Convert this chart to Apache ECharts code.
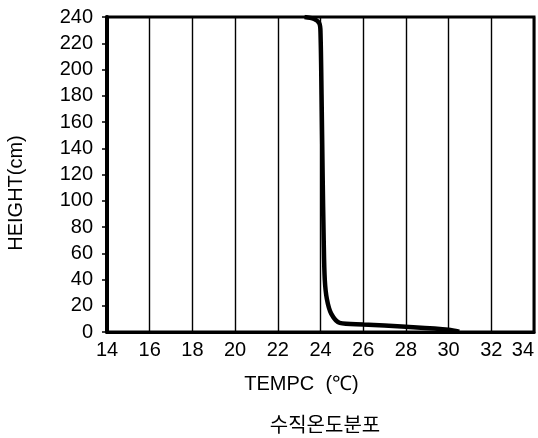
<!DOCTYPE html>
<html>
<head>
<meta charset="utf-8">
<script src="https://cdn.jsdelivr.net/npm/echarts@6/dist/echarts.min.js"></script>
<style>
  html, body { margin: 0; padding: 0; background: #fff; }
  #chart { width: 538px; height: 438px; }
</style>
</head>
<body>
<div id="chart"></div>
<script>
// vertical temperature profile (temp in C, height in cm)
const tempValues = [23.25, 23.7, 23.95, 24.0, 24.05, 24.1, 24.15, 24.2, 24.3, 24.5, 24.9, 26.0, 28.0, 30.0, 30.5];
const heightValues = [240, 238.5, 235, 228, 180, 120, 70, 40, 25, 14, 7, 5.8, 4, 1.8, 0.3];
const xTicks = [14, 16, 18, 20, 22, 24, 26, 28, 30, 32, 34];
const yTicks = [0, 20, 40, 60, 80, 100, 120, 140, 160, 180, 200, 220, 240];

const chart = echarts.init(document.getElementById('chart'), null, { renderer: 'canvas' });
const font = 'Liberation Sans';

chart.setOption({
  animation: false,
  title: {
    text: '수직온도분포',
    left: 320,
    top: 409,
    textAlign: 'center',
    textStyle: { fontFamily: 'Noto Sans CJK KR', fontSize: 20, fontWeight: 'normal', color: '#000' }
  },
  grid: {
    left: 107, right: 4, top: 17, bottom: 106,
    outerBoundsMode: 'none',
    show: true, borderColor: '#000', borderWidth: 3
  },
  xAxis: {
    type: 'value',
    min: xTicks[0],
    max: xTicks[xTicks.length - 1],
    interval: 2,
    name: 'TEMPC  (℃)',
    nameLocation: 'middle',
    nameGap: 42,
    nameTextStyle: { fontFamily: font, fontSize: 20, color: '#000', padding: [0, 38, 0, 0] },
    axisLine: { show: true, lineStyle: { color: '#000', width: 3 } },
    axisTick: { show: false },
    axisLabel: { fontFamily: font, fontSize: 20, color: '#000', margin: 8, alignMaxLabel: 'right' },
    splitLine: { show: true, lineStyle: { color: '#000', width: 1.4 } }
  },
  yAxis: {
    type: 'value',
    min: yTicks[0],
    max: yTicks[yTicks.length - 1],
    interval: 20,
    name: 'HEIGHT(cm)',
    nameLocation: 'middle',
    nameRotate: 90,
    nameGap: 81,
    nameTextStyle: { fontFamily: font, fontSize: 20, color: '#000', padding: [0, 37, 0, 0] },
    axisLine: { show: true, lineStyle: { color: '#000', width: 4 } },
    axisTick: { show: true, inside: false, length: 5, lineStyle: { color: '#000', width: 1.5 } },
    axisLabel: { fontFamily: font, fontSize: 20, color: '#000', margin: 14 },
    splitLine: { show: false }
  },
  series: [{
    type: 'line',
    data: tempValues.map((t, i) => [t, heightValues[i]]),
    smooth: 0.3,
    symbol: 'none',
    lineStyle: { color: '#000', width: 4.5 },
    z: 5
  }]
});
</script>
</body>
</html>
